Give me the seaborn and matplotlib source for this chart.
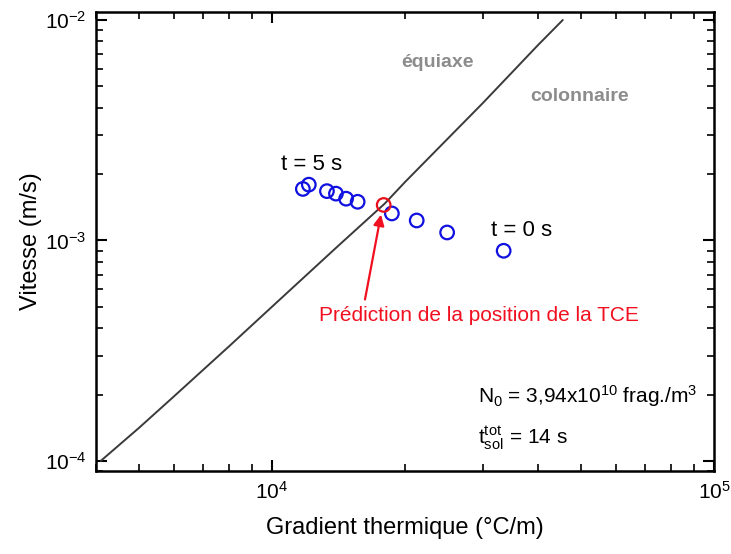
import numpy as np
import pandas as pd
import matplotlib
matplotlib.use("Agg")
import matplotlib.pyplot as plt
import seaborn as sns

# Courbe de transition colonnaire / équiaxe
curve_gradient = [4100, 5000, 6000, 8000, 10000, 14000, 18000, 20000, 30000, 40000, 45500]
curve_vitesse = [1.0e-4, 1.41e-4, 1.96e-4, 3.31e-4, 5.0e-4, 9.3e-4, 1.47e-3, 1.84e-3, 4.2e-3, 7.7e-3, 1.0e-2]

# Points simulés (de t = 5 s à t = 0 s)
pts_gradient = [11750, 12120, 13320, 13960, 14720, 15630, 18680, 21260, 24910, 33440]
pts_vitesse = [1.713e-3, 1.791e-3, 1.674e-3, 1.631e-3, 1.547e-3, 1.498e-3, 1.326e-3, 1.232e-3, 1.087e-3, 8.98e-4]

# Point de prédiction de la TCE
tce_gradient = [17900]
tce_vitesse = [1.449e-3]

sns.set_theme(style="ticks")
plt.rcParams["font.family"] = ["Liberation Sans", "DejaVu Sans"]
plt.rcParams["mathtext.fontset"] = "custom"
plt.rcParams["mathtext.rm"] = "Liberation Sans"
plt.rcParams["mathtext.it"] = "Liberation Sans:italic"
plt.rcParams["mathtext.bf"] = "Liberation Sans:bold"
plt.rcParams["text.color"] = "black"
plt.rcParams["axes.labelcolor"] = "black"

df_curve = pd.DataFrame({"G": curve_gradient, "V": curve_vitesse})
df_pts = pd.DataFrame({"G": pts_gradient, "V": pts_vitesse})
df_tce = pd.DataFrame({"G": tce_gradient, "V": tce_vitesse})

fig, ax = plt.subplots(figsize=(7.31, 5.54), dpi=100)
fig.subplots_adjust(left=0.1313, right=0.9767, bottom=0.1498, top=0.9783)

sns.lineplot(data=df_curve, x="G", y="V", ax=ax, color="#3a3a3a", linewidth=1.4,
             sort=False, estimator=None)
sns.scatterplot(data=df_pts, x="G", y="V", ax=ax, marker="o", s=95,
                facecolors="none", edgecolor="#1010e0", linewidth=1.6, zorder=3)
sns.scatterplot(data=df_tce, x="G", y="V", ax=ax, marker="o", s=95,
                facecolors="none", edgecolor="#e8101a", linewidth=1.6, zorder=4)

ax.set_xscale("log")
ax.set_yscale("log")
ax.set_xlim(4000, 1e5)
ax.set_ylim(9.0e-5, 1.087e-2)

ax.set_xlabel("Gradient thermique (°C/m)", fontsize=17, labelpad=10)
ax.set_ylabel("Vitesse (m/s)", fontsize=17, labelpad=2)

ax.tick_params(which="both", direction="in", top=True, right=True, colors="black")
ax.tick_params(which="major", length=8, width=1.5, labelsize=15, pad=7)
ax.tick_params(which="minor", length=5, width=1.2)
for s in ax.spines.values():
    s.set_linewidth(1.8)
    s.set_color("black")

# Annotations
ax.text(0.349, 0.667, "t = 5 s", transform=ax.transAxes, fontsize=16,
        ha="center", va="center")
ax.text(0.689, 0.523, "t = 0 s", transform=ax.transAxes, fontsize=16,
        ha="center", va="center")
ax.text(0.552, 0.889, "équiaxe", transform=ax.transAxes, fontsize=14,
        fontweight="bold", color="#8c8c8c", ha="center", va="center")
ax.text(0.783, 0.817, "colonnaire", transform=ax.transAxes, fontsize=14,
        fontweight="bold", color="#8c8c8c", ha="center", va="center")
ax.text(0.620, 0.338, "Prédiction de la position de la TCE", transform=ax.transAxes,
        fontsize=15, color="#f01020", ha="center", va="center")
ax.text(0.618, 0.163, r"N$_0$ = 3,94x10$^{10}$ frag./m$^3$", transform=ax.transAxes,
        fontsize=15, ha="left", va="center")
ax.text(0.618, 0.074, r"t$_{\mathrm{sol}}^{\mathrm{tot}}$ = 14 s", transform=ax.transAxes,
        fontsize=15, ha="left", va="center")

# Flèche vers le point TCE
ax.annotate("", xy=(17650, 1.31e-3), xytext=(16240, 5.4e-4),
            arrowprops=dict(arrowstyle="-|>", color="#f01020", lw=1.6,
                            mutation_scale=16, shrinkA=0, shrinkB=0))

fig.savefig("out.png", dpi=100)
